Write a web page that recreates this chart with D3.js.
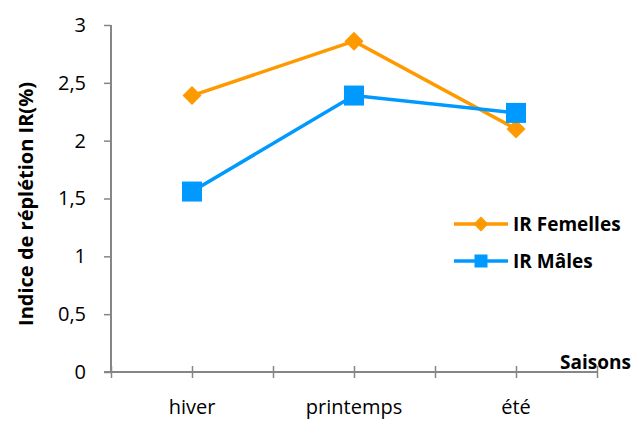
<!DOCTYPE html>
<html><head><meta charset="utf-8">
<script src="https://cdn.jsdelivr.net/npm/d3@7"></script>
<style>body{margin:0;background:#fff}svg{display:block;font-family:"Open Sans",sans-serif}</style>
</head><body><svg id="c" width="635" height="421"></svg>
<script>
const categories = ["hiver", "printemps", "été"];
const femelles = [2.39, 2.86, 2.10];
const males = [1.56, 2.39, 2.24];
const yTicks = [0, 0.5, 1, 1.5, 2, 2.5, 3];
const seriesNames = ["IR Femelles", "IR Mâles"];

const svg = d3.select("#c");
const axisColor = "#868686";
const orange = "#FF9900", blue = "#0099FF";
const font = "'Open Sans',sans-serif";

const y = d3.scaleLinear().domain([0, 3]).range([372, 25]);
const xTick = d3.scaleLinear().domain([0, 6]).range([111, 597]);
const xPt = d3.scalePoint().domain(categories).range([111, 597]).padding(0.5);

// Y axis
const ya = svg.append("g").attr("transform", "translate(111,0)")
  .call(d3.axisLeft(y).tickValues(yTicks).tickSize(7).tickPadding(18)
    .tickFormat(d => String(d).replace(".", ",")));
ya.select(".domain").attr("stroke", axisColor).attr("stroke-width", 2).attr("d", "M0,25V372");
ya.selectAll(".tick line").attr("stroke", axisColor).attr("stroke-width", 1.5);
ya.selectAll(".tick text").attr("font-size", 20).attr("fill", "#000").attr("font-family", font);

// X axis
const xa = svg.append("g").attr("transform", "translate(0,372)")
  .call(d3.axisBottom(xTick).tickValues(d3.range(0, 7)).tickSize(6).tickFormat(""));
xa.select(".domain").attr("stroke", axisColor).attr("stroke-width", 2).attr("d", "M104,0H597");
xa.selectAll(".tick line").attr("stroke", axisColor).attr("stroke-width", 1.5).attr("y1", -6).attr("y2", 6);

svg.append("g").selectAll("text").data(categories).join("text")
  .attr("x", d => xPt(d))
  .attr("y", 414).attr("text-anchor", "middle").attr("font-size", 20).attr("font-family", font).text(d => d);

// Titles
svg.append("text").attr("transform", "translate(33,204) rotate(-90)")
  .attr("text-anchor", "middle").attr("font-size", 20).attr("font-weight", "bold").attr("font-family", font)
  .text("Indice de réplétion IR(%)");
svg.append("text").attr("x", 631).attr("y", 369).attr("text-anchor", "end").attr("font-family", font)
  .attr("font-size", 19).attr("font-weight", "bold").text("Saisons");

// Lines
const line = d3.line().x((d, i) => xPt(categories[i])).y(d => y(d));
svg.append("path").datum(femelles).attr("d", line).attr("fill", "none")
  .attr("stroke", orange).attr("stroke-width", 3.5);
svg.append("path").datum(males).attr("d", line).attr("fill", "none")
  .attr("stroke", blue).attr("stroke-width", 3.5);

const diamond = (s) => `M0,${-s}L${s},0L0,${s}L${-s},0Z`;
svg.append("g").selectAll("path").data(femelles).join("path")
  .attr("transform", (d, i) => `translate(${xPt(categories[i])},${y(d)})`)
  .attr("d", diamond(9.5)).attr("fill", orange);
svg.append("g").selectAll("rect").data(males).join("rect")
  .attr("x", (d, i) => xPt(categories[i]) - 10).attr("y", d => y(d) - 10)
  .attr("width", 20).attr("height", 20).attr("fill", blue);

// Legend
const leg = svg.append("g");
const legY = [224, 261];
const cols = [orange, blue];
seriesNames.forEach((n, i) => {
  leg.append("line").attr("x1", 454).attr("x2", 508).attr("y1", legY[i]).attr("y2", legY[i])
    .attr("stroke", cols[i]).attr("stroke-width", 3.5);
  if (i === 0) leg.append("path").attr("transform", `translate(481,${legY[i]})`).attr("d", diamond(7.5)).attr("fill", cols[i]);
  else leg.append("rect").attr("x", 474.5).attr("y", legY[i] - 6.5).attr("width", 13).attr("height", 13).attr("fill", cols[i]);
  leg.append("text").attr("x", 513).attr("y", legY[i] + 7).attr("font-size", 19).attr("font-family", font)
    .attr("font-weight", "bold").text(n);
});
</script></body></html>
